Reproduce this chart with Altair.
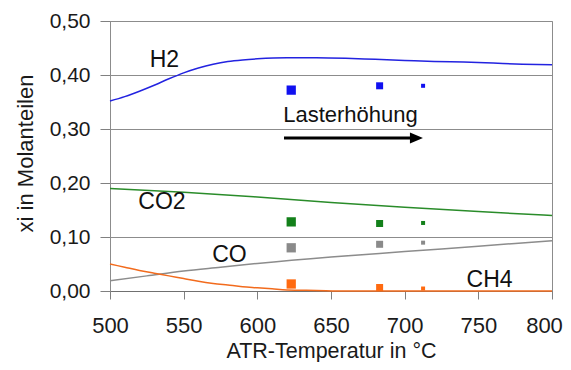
import altair as alt
import pandas as pd

# ---- data ----
series_names = ["H2", "CO2", "CO", "CH4"]
line_colors = ["#2323e0", "#2a8c2a", "#8c8c8c", "#f26b1d"]
point_colors = ["#1010f0", "#13801a", "#8a8a8a", "#ff6a10"]

h2_t = [500, 510, 520, 530, 540, 550, 560, 570, 580, 590, 600, 620, 640, 660, 680, 700, 720, 740, 760, 780, 800]
h2_v = [0.352, 0.360, 0.370, 0.381, 0.393, 0.404, 0.413, 0.420, 0.425, 0.428, 0.430, 0.432, 0.432, 0.431, 0.429, 0.427, 0.425, 0.424, 0.422, 0.420, 0.419]

co2_t = [500, 550, 600, 650, 700, 750, 800]
co2_v = [0.190, 0.183, 0.174, 0.164, 0.155, 0.147, 0.140]

co_t = [500, 525, 550, 575, 600, 650, 700, 750, 800]
co_v = [0.019, 0.028, 0.037, 0.044, 0.051, 0.063, 0.073, 0.083, 0.093]

ch4_t = [500, 510, 520, 530, 540, 550, 560, 570, 580, 590, 600, 610, 620, 640, 660, 700, 750, 800]
ch4_v = [0.050, 0.044, 0.038, 0.033, 0.028, 0.023, 0.018, 0.014, 0.011, 0.008, 0.006, 0.004, 0.002, 0.001, 0.0, 0.0, 0.0, 0.0]

meas_t = [623, 683, 712.5]
meas_size = [86, 49, 16]
meas_h2 = [0.372, 0.380, 0.380]
meas_co2 = [0.128, 0.125, 0.126]
meas_co = [0.080, 0.0865, 0.0895]
meas_ch4 = [0.013, 0.0065, 0.0046]

label_text = ["H2", "CO2", "CO", "CH4"]
label_t = [536.9, 535.3, 581.1, 757.6]
label_v = [0.414, 0.1513, 0.0543, 0.0068]

arrow_text = "Lasterhöhung"
arrow_text_t = 663.2
arrow_text_v = 0.313
arrow_t0, arrow_t1, arrow_head_t = 618.1, 705.0, 708.0
arrow_v = 0.2833

x_ticks = [500, 550, 600, 650, 700, 750, 800]
y_ticks = [0.0, 0.1, 0.2, 0.3, 0.4, 0.5]

# ---- tables ----
lines = pd.concat([
    pd.DataFrame({"t": h2_t, "v": h2_v, "s": "H2"}),
    pd.DataFrame({"t": co2_t, "v": co2_v, "s": "CO2"}),
    pd.DataFrame({"t": co_t, "v": co_v, "s": "CO"}),
    pd.DataFrame({"t": ch4_t, "v": ch4_v, "s": "CH4"}),
])
points = pd.concat([
    pd.DataFrame({"t": meas_t, "v": vals, "s": name, "size": meas_size})
    for name, vals in zip(series_names, [meas_h2, meas_co2, meas_co, meas_ch4])
])
labels = pd.DataFrame({"t": label_t, "v": label_v, "txt": label_text})
arrow_df = pd.DataFrame({"t": [arrow_t0], "t2": [arrow_t1], "th": [arrow_head_t],
                         "v": [arrow_v], "tt": [arrow_text_t], "tv": [arrow_text_v],
                         "txt": [arrow_text]})

FONT = "Liberation Sans"

x_enc = alt.X("t:Q", scale=alt.Scale(domain=[500, 800], nice=False, zero=False),
              axis=alt.Axis(values=x_ticks, title="ATR-Temperatur in °C", grid=False,
                            tickSize=8, labelPadding=16, labelFontSize=22, labelFlush=False,
                            labelOffset={"condition": {"test": "datum.value == 800", "value": -8}, "value": 0},
                            titleFontSize=21.5, titleY=49, titleBaseline="top",
                            domainColor="#707070"))
y_enc = alt.Y("v:Q", scale=alt.Scale(domain=[0, 0.5], nice=False),
              axis=alt.Axis(values=y_ticks, title="xi in Molanteilen", grid=True,
                            labelExpr="replace(format(datum.value, '.2f'), '.', ',')",
                            tickSize=10, labelPadding=10, labelFontSize=21, labelFlush=False,
                            titleFontSize=22, titleX=-78, titleY=132,
                            titleBaseline="alphabetic", titleAngle=270))

color_line = alt.Color("s:N", scale=alt.Scale(domain=series_names, range=line_colors), legend=None)
color_pt = alt.Color("s:N", scale=alt.Scale(domain=series_names, range=point_colors), legend=None)

line_layer = alt.Chart(lines).mark_line(interpolate="monotone", strokeWidth=1.5).encode(
    x=x_enc, y=y_enc, color=color_line, detail="s:N")

point_layer = alt.Chart(points).mark_square(opacity=1).encode(
    x="t:Q", y="v:Q", color=color_pt, size=alt.Size("size:Q", scale=None))

label_layer = alt.Chart(labels).mark_text(font=FONT, fontSize=23, align="center",
                                          baseline="alphabetic", color="#111111").encode(
    x="t:Q", y="v:Q", text="txt:N")

arrow_line = alt.Chart(arrow_df).mark_rule(strokeWidth=3, color="black").encode(
    x="t:Q", x2="t2:Q", y="v:Q")
arrow_head = alt.Chart(arrow_df).mark_point(shape="M-1,-0.85L1,0L-1,0.85Z", size=169,
                                            filled=True, color="black", opacity=1).encode(
    x="th:Q", y="v:Q")
arrow_label = alt.Chart(arrow_df).mark_text(font=FONT, fontSize=22, align="center",
                                            baseline="alphabetic", color="#111111").encode(
    x="tt:Q", y="tv:Q", text="txt:N")

chart = alt.layer(line_layer, point_layer, label_layer, arrow_line, arrow_head, arrow_label).resolve_scale(
    color="independent"
).properties(
    width=442, height=270,
    autosize=alt.AutoSizeParams(type="none"),
    padding={"left": 102, "top": 13, "right": 11, "bottom": 71},
    background="white",
).configure_view(
    stroke="#8c8c8c", strokeWidth=1
).configure_axis(
    labelFont=FONT, titleFont=FONT, labelColor="#1a1a1a", titleColor="#1a1a1a",
    titleFontWeight="normal", gridColor="#8c8c8c", gridWidth=1, gridOpacity=1,
    tickColor="#808080", domainColor="#8c8c8c",
)

chart.save("out.html", embed_options={"renderer": "svg", "actions": False})
